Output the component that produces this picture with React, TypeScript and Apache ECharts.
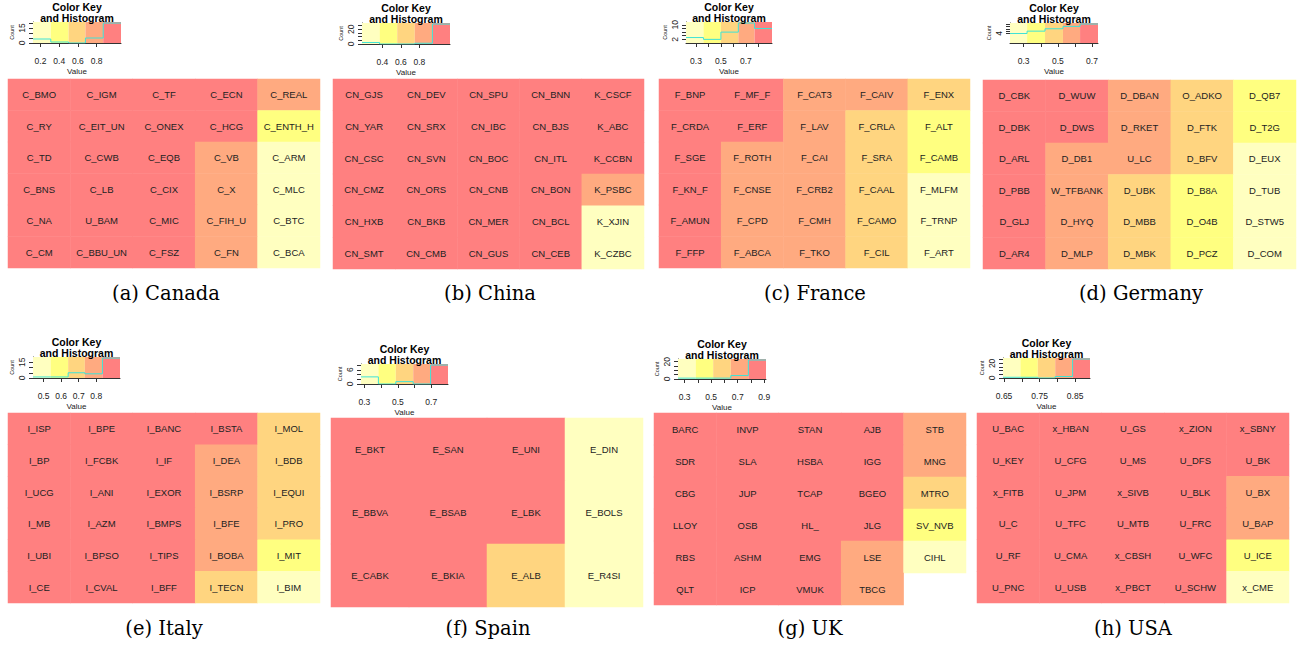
import React, { useEffect, useRef } from "react";
import * as echarts from "echarts";

// ---------------- data ----------------
const heatColors = ["#FFFFC0", "#FFFF80", "#FFD580", "#FFAA80", "#FF8080"];

const canadaNames = [
  "C_BMO", "C_IGM", "C_TF", "C_ECN", "C_REAL",
  "C_RY", "C_EIT_UN", "C_ONEX", "C_HCG", "C_ENTH_H",
  "C_TD", "C_CWB", "C_EQB", "C_VB", "C_ARM",
  "C_BNS", "C_LB", "C_CIX", "C_X", "C_MLC",
  "C_NA", "U_BAM", "C_MIC", "C_FIH_U", "C_BTC",
  "C_CM", "C_BBU_UN", "C_FSZ", "C_FN", "C_BCA",
];
const canadaValues = [
  1.04, 0.97, 0.92, 0.88, 0.7,
  1.02, 0.96, 0.92, 0.88, 0.41,
  1.01, 0.96, 0.91, 0.83, 0.29,
  1.0, 0.95, 0.9, 0.79, 0.24,
  0.99, 0.94, 0.9, 0.75, 0.19,
  0.98, 0.93, 0.89, 0.72, 0.14,
];
const canadaBreaks = [0.12, 0.31, 0.5, 0.68, 0.87, 1.06];
const canadaXTicks = [0.2, 0.4, 0.6, 0.8];
const canadaXLabels = [0.2, 0.4, 0.6, 0.8];
const canadaYTicks = [0, 5, 10, 15, 20];
const canadaYLabels = [0, 15];

const chinaNames = [
  "CN_GJS", "CN_DEV", "CN_SPU", "CN_BNN", "K_CSCF",
  "CN_YAR", "CN_SRX", "CN_IBC", "CN_BJS", "K_ABC",
  "CN_CSC", "CN_SVN", "CN_BOC", "CN_ITL", "K_CCBN",
  "CN_CMZ", "CN_ORS", "CN_CNB", "CN_BON", "K_PSBC",
  "CN_HXB", "CN_BKB", "CN_MER", "CN_BCL", "K_XJIN",
  "CN_SMT", "CN_CMB", "CN_GUS", "CN_CEB", "K_CZBC",
];
const chinaValues = [
  1.12, 1.06, 1.03, 1.0, 0.97,
  1.11, 1.06, 1.03, 1.0, 0.97,
  1.1, 1.05, 1.02, 0.99, 0.96,
  1.09, 1.05, 1.02, 0.99, 0.85,
  1.08, 1.04, 1.01, 0.98, 0.31,
  1.07, 1.04, 1.01, 0.98, 0.22,
];
const chinaBreaks = [0.18, 0.37, 0.56, 0.75, 0.94, 1.13];
const chinaXTicks = [0.4, 0.6, 0.8];
const chinaXLabels = [0.4, 0.6, 0.8];
const chinaYTicks = [0, 5, 10, 15, 20, 25];
const chinaYLabels = [0, 20];

const franceNames = [
  "F_BNP", "F_MF_F", "F_CAT3", "F_CAIV", "F_ENX",
  "F_CRDA", "F_ERF", "F_LAV", "F_CRLA", "F_ALT",
  "F_SGE", "F_ROTH", "F_CAI", "F_SRA", "F_CAMB",
  "F_KN_F", "F_CNSE", "F_CRB2", "F_CAAL", "F_MLFM",
  "F_AMUN", "F_CPD", "F_CMH", "F_CAMO", "F_TRNP",
  "F_FFP", "F_ABCA", "F_TKO", "F_CIL", "F_ART",
];
const franceValues = [
  0.9, 0.8, 0.74, 0.67, 0.52,
  0.89, 0.79, 0.73, 0.62, 0.45,
  0.87, 0.76, 0.72, 0.6, 0.4,
  0.85, 0.76, 0.71, 0.58, 0.32,
  0.83, 0.75, 0.7, 0.56, 0.28,
  0.81, 0.75, 0.69, 0.54, 0.24,
];
const franceBreaks = [0.22, 0.36, 0.5, 0.64, 0.77, 0.91];
const franceXTicks = [0.3, 0.4, 0.5, 0.6, 0.7, 0.8];
const franceXLabels = [0.3, 0.5, 0.7];
const franceYTicks = [2, 4, 6, 8, 10];
const franceYLabels = [2, 10];

const germanyNames = [
  "D_CBK", "D_WUW", "D_DBAN", "O_ADKO", "D_QB7",
  "D_DBK", "D_DWS", "D_RKET", "D_FTK", "D_T2G",
  "D_ARL", "D_DB1", "U_LC", "D_BFV", "D_EUX",
  "D_PBB", "W_TFBANK", "D_UBK", "D_B8A", "D_TUB",
  "D_GLJ", "D_HYQ", "D_MBB", "D_O4B", "D_STW5",
  "D_AR4", "D_MLP", "D_MBK", "D_PCZ", "D_COM",
];
const germanyValues = [
  0.73, 0.66, 0.58, 0.48, 0.36,
  0.72, 0.65, 0.57, 0.46, 0.34,
  0.71, 0.62, 0.55, 0.44, 0.31,
  0.7, 0.61, 0.52, 0.42, 0.28,
  0.69, 0.6, 0.51, 0.4, 0.26,
  0.68, 0.59, 0.5, 0.38, 0.23,
];
const germanyBreaks = [0.22, 0.32, 0.425, 0.53, 0.63, 0.735];
const germanyXTicks = [0.3, 0.4, 0.5, 0.6, 0.7];
const germanyXLabels = [0.3, 0.5, 0.7];
const germanyYTicks = [4, 5, 6, 7, 8];
const germanyYLabels = [4];

const italyNames = [
  "I_ISP", "I_BPE", "I_BANC", "I_BSTA", "I_MOL",
  "I_BP", "I_FCBK", "I_IF", "I_DEA", "I_BDB",
  "I_UCG", "I_ANI", "I_EXOR", "I_BSRP", "I_EQUI",
  "I_MB", "I_AZM", "I_BMPS", "I_BFE", "I_PRO",
  "I_UBI", "I_BPSO", "I_TIPS", "I_BOBA", "I_MIT",
  "I_CE", "I_CVAL", "I_BFF", "I_TECN", "I_BIM",
];
const italyValues = [
  0.93, 0.9, 0.87, 0.84, 0.71,
  0.92, 0.89, 0.86, 0.82, 0.69,
  0.92, 0.89, 0.86, 0.8, 0.67,
  0.91, 0.88, 0.85, 0.78, 0.65,
  0.91, 0.88, 0.85, 0.76, 0.6,
  0.9, 0.87, 0.85, 0.72, 0.5,
];
const italyBreaks = [0.44, 0.54, 0.64, 0.735, 0.835, 0.935];
const italyXTicks = [0.5, 0.6, 0.7, 0.8];
const italyXLabels = [0.5, 0.6, 0.7, 0.8];
const italyYTicks = [0, 5, 10, 15];
const italyYLabels = [0, 15];

const spainNames = [
  "E_BKT", "E_SAN", "E_UNI", "E_DIN",
  "E_BBVA", "E_BSAB", "E_LBK", "E_BOLS",
  "E_CABK", "E_BKIA", "E_ALB", "E_R4SI",
];
const spainValues = [
  0.79, 0.74, 0.71, 0.37,
  0.77, 0.73, 0.7, 0.33,
  0.75, 0.72, 0.55, 0.3,
];
const spainBreaks = [0.28, 0.384, 0.488, 0.592, 0.696, 0.8];
const spainXTicks = [0.3, 0.4, 0.5, 0.6, 0.7];
const spainXLabels = [0.3, 0.5, 0.7];
const spainYTicks = [0, 2, 4, 6, 8];
const spainYLabels = [0, 6];

const ukNames = [
  "BARC", "INVP", "STAN", "AJB", "STB",
  "SDR", "SLA", "HSBA", "IGG", "MNG",
  "CBG", "JUP", "TCAP", "BGEO", "MTRO",
  "LLOY", "OSB", "HL_", "JLG", "SV_NVB",
  "RBS", "ASHM", "EMG", "LSE", "CIHL",
  "QLT", "ICP", "VMUK", "TBCG", null,
];
const ukValues = [
  0.91, 0.86, 0.83, 0.8, 0.7,
  0.9, 0.85, 0.82, 0.79, 0.67,
  0.89, 0.85, 0.82, 0.79, 0.58,
  0.88, 0.84, 0.81, 0.79, 0.45,
  0.87, 0.84, 0.81, 0.75, 0.3,
  0.86, 0.83, 0.8, 0.72, null,
];
const ukBreaks = [0.25, 0.383, 0.515, 0.648, 0.78, 0.913];
const ukXTicks = [0.3, 0.4, 0.5, 0.6, 0.7, 0.8, 0.9];
const ukXLabels = [0.3, 0.5, 0.7, 0.9];
const ukYTicks = [0, 5, 10, 15, 20];
const ukYLabels = [0, 20];

const usaNames = [
  "U_BAC", "x_HBAN", "U_GS", "x_ZION", "x_SBNY",
  "U_KEY", "U_CFG", "U_MS", "U_DFS", "U_BK",
  "x_FITB", "U_JPM", "x_SIVB", "U_BLK", "U_BX",
  "U_C", "U_TFC", "U_MTB", "U_FRC", "U_BAP",
  "U_RF", "U_CMA", "x_CBSH", "U_WFC", "U_ICE",
  "U_PNC", "U_USB", "x_PBCT", "U_SCHW", "x_CME",
];
const usaValues = [
  0.891, 0.879, 0.867, 0.855, 0.845,
  0.889, 0.877, 0.865, 0.853, 0.844,
  0.887, 0.875, 0.863, 0.851, 0.83,
  0.885, 0.873, 0.861, 0.849, 0.81,
  0.883, 0.871, 0.859, 0.847, 0.72,
  0.881, 0.869, 0.857, 0.846, 0.66,
];
const usaBreaks = [0.647, 0.696, 0.745, 0.794, 0.843, 0.892];
const usaXTicks = [0.65, 0.7, 0.75, 0.8, 0.85];
const usaXLabels = [0.65, 0.75, 0.85];
const usaYTicks = [0, 5, 10, 15, 20, 25];
const usaYLabels = [0, 20];

const captions = [
  "(a) Canada", "(b) China", "(c) France", "(d) Germany",
  "(e) Italy", "(f) Spain", "(g) UK", "(h) USA",
];

const panels = [
  { names: canadaNames, values: canadaValues, cols: 5, rows: 6, breaks: canadaBreaks, xt: canadaXTicks, xl: canadaXLabels, yt: canadaYTicks, yl: canadaYLabels },
  { names: chinaNames, values: chinaValues, cols: 5, rows: 6, breaks: chinaBreaks, xt: chinaXTicks, xl: chinaXLabels, yt: chinaYTicks, yl: chinaYLabels },
  { names: franceNames, values: franceValues, cols: 5, rows: 6, breaks: franceBreaks, xt: franceXTicks, xl: franceXLabels, yt: franceYTicks, yl: franceYLabels },
  { names: germanyNames, values: germanyValues, cols: 5, rows: 6, breaks: germanyBreaks, xt: germanyXTicks, xl: germanyXLabels, yt: germanyYTicks, yl: germanyYLabels },
  { names: italyNames, values: italyValues, cols: 5, rows: 6, breaks: italyBreaks, xt: italyXTicks, xl: italyXLabels, yt: italyYTicks, yl: italyYLabels },
  { names: spainNames, values: spainValues, cols: 4, rows: 3, breaks: spainBreaks, xt: spainXTicks, xl: spainXLabels, yt: spainYTicks, yl: spainYLabels },
  { names: ukNames, values: ukValues, cols: 5, rows: 6, breaks: ukBreaks, xt: ukXTicks, xl: ukXLabels, yt: ukYTicks, yl: ukYLabels },
  { names: usaNames, values: usaValues, cols: 5, rows: 6, breaks: usaBreaks, xt: usaXTicks, xl: usaXLabels, yt: usaYTicks, yl: usaYLabels },
];

// ---------------- layout (pixels) ----------------
const LAYOUT = [
  { heat: [8, 79, 312, 189], key: [33, 22, 88, 21], cap: [166, 293] },
  { heat: [333, 79, 311, 190], key: [362, 23, 88, 21], cap: [490, 293] },
  { heat: [659, 79, 311, 189], key: [686, 22, 86, 21], cap: [815, 293] },
  { heat: [983, 80, 313, 189], key: [1010, 23, 88, 20], cap: [1141, 293] },
  { heat: [8, 413, 312, 190], key: [33, 357, 87, 21], cap: [164, 628] },
  { heat: [331, 418, 312, 189], key: [361, 364, 87, 20], cap: [488, 628] },
  { heat: [654, 413, 312, 192], key: [678, 359, 88, 20], cap: [810, 628] },
  { heat: [977, 413, 312, 190], key: [1003, 358, 87, 20], cap: [1133, 628] },
];

const SANS = '"Liberation Sans", Arial, Helvetica, sans-serif';
const SERIF = '"DejaVu Serif", "Liberation Serif", serif';
const HIST_COLOR = "#3FE3D6";
const AXIS_COLOR = "#333333";

function buildOption() {
  const grid: any[] = [];
  const xAxis: any[] = [];
  const yAxis: any[] = [];
  const series: any[] = [];
  const visualMap: any[] = [];
  const graphic: any[] = [];

  panels.forEach((p, i) => {
    const L = LAYOUT[i];
    // ---- heatmap ----
    const gh = grid.length;
    grid.push({ left: L.heat[0], top: L.heat[1], width: L.heat[2], height: L.heat[3] });
    xAxis.push({
      type: "category", gridIndex: gh, show: false,
      data: Array.from({ length: p.cols }, (_, k) => String(k)),
    });
    yAxis.push({
      type: "category", gridIndex: gh, show: false, inverse: true,
      data: Array.from({ length: p.rows }, (_, k) => String(k)),
    });
    const data: any[] = [];
    p.names.forEach((n, k) => {
      if (n == null || p.values[k] == null) return;
      data.push({ name: n, value: [k % p.cols, Math.floor(k / p.cols), p.values[k]] });
    });
    const hIdx = series.length;
    series.push({
      type: "heatmap", xAxisIndex: gh, yAxisIndex: gh, data,
      label: {
        show: true, formatter: (q: any) => q.name,
        fontSize: 9.5, fontFamily: SANS, color: "#222",
      },
      emphasis: { disabled: true },
    });
    const b = p.breaks;
    visualMap.push({
      type: "piecewise", show: false, seriesIndex: hIdx, dimension: 2,
      pieces: heatColors.map((c, k) =>
        k < 4 ? { gte: b[k], lt: b[k + 1], color: c } : { gte: b[k], lte: b[k + 1], color: c }),
    });

    // ---- color key + histogram ----
    const counts = [0, 0, 0, 0, 0];
    p.values.forEach((v) => {
      if (v == null) return;
      for (let k = 0; k < 5; k++) {
        if (v >= b[k] && (v < b[k + 1] || (k === 4 && v <= b[5]))) { counts[k]++; break; }
      }
    });
    const maxC = Math.max(...counts);
    const gk = grid.length;
    grid.push({ left: L.key[0], top: L.key[1], width: L.key[2], height: L.key[3] });
    xAxis.push({
      type: "value", gridIndex: gk, min: b[0], max: b[5],
      splitLine: { show: false },
      axisLine: { show: true, onZero: false, lineStyle: { color: AXIS_COLOR, width: 1 } },
      axisTick: { show: true, length: 4, customValues: p.xt, lineStyle: { color: AXIS_COLOR } },
      axisLabel: {
        show: true, customValues: p.xl, fontSize: 8.5, fontFamily: SANS, color: "#222", margin: 13,
        formatter: (v: number) => String(v),
      },
      name: "Value", nameLocation: "middle", nameGap: 24,
      nameTextStyle: { fontSize: 8, fontFamily: SANS, color: "#222" },
    });
    yAxis.push({
      type: "value", gridIndex: gk, min: 0, max: maxC / 0.95,
      splitLine: { show: false },
      axisLine: { show: true, onZero: false, lineStyle: { color: AXIS_COLOR, width: 1 } },
      axisTick: { show: true, length: 4, customValues: p.yt, lineStyle: { color: AXIS_COLOR } },
      axisLabel: {
        show: true, customValues: p.yl, fontSize: 8.5, fontFamily: SANS, color: "#222",
        rotate: 90, margin: 7, formatter: (v: number) => String(v),
      },
      name: "Count", nameLocation: "middle", nameGap: 18, nameRotate: 90,
      nameTextStyle: { fontSize: 5.5, fontFamily: SANS, color: "#222" },
    });
    const pts: number[][] = counts.map((c, k) => [b[k], c]);
    pts.push([b[5], counts[4]]);
    series.push({
      type: "line", xAxisIndex: gk, yAxisIndex: gk, data: pts, symbol: "none",
      lineStyle: { width: 0, opacity: 0 }, silent: true, z: 1,
      markArea: {
        silent: true,
        data: heatColors.map((c, k) => [
          { xAxis: b[k], itemStyle: { color: c, opacity: 1 } },
          { xAxis: b[k + 1] },
        ]),
      },
    });
    series.push({
      type: "line", xAxisIndex: gk, yAxisIndex: gk, data: pts, step: "end",
      symbol: "none", silent: true, z: 5,
      lineStyle: { color: HIST_COLOR, width: 1 },
    });

    const cx = L.key[0] + L.key[2] / 2;
    graphic.push({
      type: "text", x: cx, y: L.key[1] - 15, z: 10,
      style: { text: "Color Key", textAlign: "center", textVerticalAlign: "middle", font: `bold 10.5px ${SANS}`, fill: "#000" },
    });
    graphic.push({
      type: "text", x: cx, y: L.key[1] - 4, z: 10,
      style: { text: "and Histogram", textAlign: "center", textVerticalAlign: "middle", font: `bold 10.5px ${SANS}`, fill: "#000" },
    });
    graphic.push({
      type: "text", x: L.cap[0], y: L.cap[1],
      style: { text: captions[i], textAlign: "center", textVerticalAlign: "middle", font: `19.5px ${SERIF}`, fill: "#000" },
    });
  });

  return {
    animation: false,
    backgroundColor: "#ffffff",
    grid, xAxis, yAxis, series, visualMap, graphic,
  };
}

export default function App() {
  const ref = useRef<HTMLDivElement>(null);
  useEffect(() => {
    if (!ref.current) return;
    const chart = echarts.init(ref.current, undefined, { renderer: "svg" });
    chart.setOption(buildOption() as any);
    return () => chart.dispose();
  }, []);
  return (
    <div
      ref={ref}
      style={{ position: "fixed", left: 0, top: 0, width: 1303, height: 648, background: "#fff" }}
    />
  );
}
